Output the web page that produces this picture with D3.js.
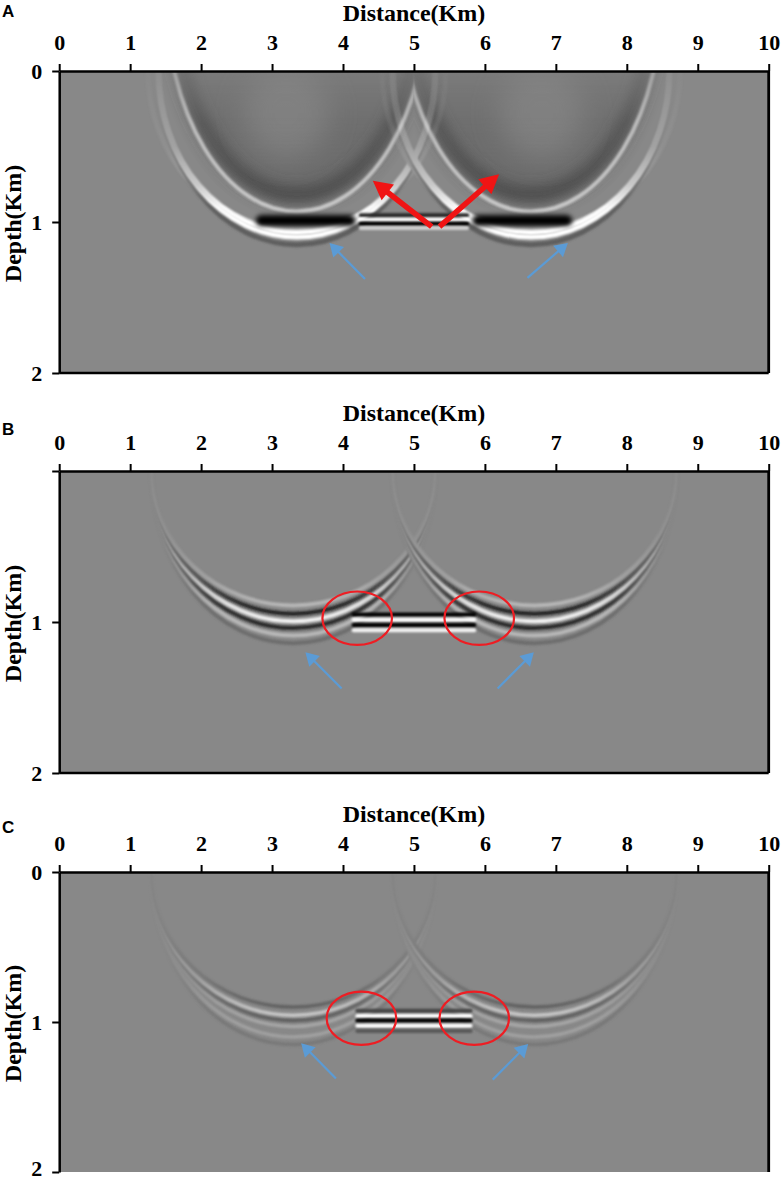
<!DOCTYPE html>
<html lang="en">
<head>
  <meta charset="UTF-8">
  <title>Migrated sections A, B, C</title>
  <script src="https://d3js.org/d3.v7.min.js"></script>
  <style>
    body { margin: 0; background: #fff; }
  </style>
</head>
<body>
<div id="chart"></div>

<script>
/* ========== DATA (all in km) ========== */
var distanceTicks = [0, 1, 2, 3, 4, 5, 6, 7, 8, 9, 10];
var depthTicks = [0, 1, 2];
var depthLabelsA = ["0", "1", "2"];
var depthLabelsB = ["", "1", "2"];
var depthLabelsC = ["0", "1", "2"];

// x position of the two migration smiles (left one, mirrored one)
var smileCentresA = [3.35, 6.65];
var smileCentresB = [3.3, 6.7];
var smileCentresC = [3.3, 6.7];

// rims of each smile: half width, bottom depth, centre depth, amplitude
var smileA = [
  {rx: 2.10, ry: 1.05, cy: 0, amp: 0.3},
  {rx: 1.95, ry: 1.15, cy: 0, amp: -0.3},
  {rx: 1.95, ry: 1.07, cy: 0, amp: 1.0},
  {rx: 1.95, ry: 1.10, cy: 0, amp: 1.0}
];
var smileB = [
  {rx: 2.0, ry: 1.14, cy: 0, amp: -0.2},
  {rx: 2.0, ry: 1.09, cy: 0, amp: 0.4},
  {rx: 2.0, ry: 1.04, cy: 0, amp: -0.7},
  {rx: 2.0, ry: 0.995, cy: 0, amp: 0.9},
  {rx: 2.0, ry: 0.945, cy: 0, amp: -0.8},
  {rx: 2.0, ry: 0.89, cy: 0, amp: 0.45}
];
var smileC = [
  {rx: 2.0, ry: 1.15, cy: 0, amp: -0.12},
  {rx: 2.0, ry: 1.10, cy: 0, amp: 0.2},
  {rx: 2.0, ry: 1.03, cy: 0, amp: 0.25},
  {rx: 2.0, ry: 0.99, cy: 0, amp: -0.3},
  {rx: 2.0, ry: 0.955, cy: 0, amp: 0.6},
  {rx: 2.0, ry: 0.90, cy: 0, amp: -0.35}
];

// bowls of A: low frequency shadow and the bright edge meeting at the apex
var bowlFillA = {rx: 1.80, ry: 1.38, cy: -0.5, amp: -0.24};
var bowlRimA = {rx: 1.74, ry: 1.32, cy: -0.5, amp: -0.5};
var bowlCoreA = {dx: -0.15, depth: 0.28, rx: 0.6, ry: 0.3, amp: -0.08};
var bowlEdgeA = {rx: 1.845, ry: 1.43, cy: -0.5, amp: 0.55};

// strong black band under the left bowl of A (mirrored for the right one)
var bandsA = [{x0: 2.85, x1: 4.1, depth: 0.99, amp: -1}];

// flat reflector between the smiles: extent and stripes
var centreSpanA = [4.25, 5.75];
var centreA = [{depth: 0.955, amp: -0.7}, {depth: 0.985, amp: 1}, {depth: 1.012, amp: -1}, {depth: 1.04, amp: 0.6}];
var centreSpanB = [4.15, 5.85];
var centreB = [{depth: 0.95, amp: -1}, {depth: 0.985, amp: 1}, {depth: 1.02, amp: -1}, {depth: 1.055, amp: 0.9}];
var centreSpanC = [4.2, 5.8];
var centreC = [{depth: 0.925, amp: -0.5}, {depth: 0.96, amp: 1}, {depth: 0.99, amp: -1}, {depth: 1.025, amp: 1}, {depth: 1.06, amp: -0.35}];

// annotations
var redArrowsA = [{from: [5.25, 1.031], to: [4.42, 0.727]}, {from: [5.36, 1.031], to: [6.20, 0.684]}];
var blueArrowsA = [{from: [4.31, 1.377], to: [3.81, 1.139]}, {from: [6.60, 1.37], to: [7.17, 1.139]}];
var blueArrowsB = [{from: [3.98, 1.44], to: [3.47, 1.20]}, {from: [6.18, 1.44], to: [6.69, 1.20]}];
var blueArrowsC = [{from: [3.90, 1.377], to: [3.41, 1.141]}, {from: [6.11, 1.384], to: [6.61, 1.146]}];
var circlesB = [{x: 4.20, depth: 0.975, rx: 0.49, ry: 0.177}, {x: 5.92, depth: 0.975, rx: 0.49, ry: 0.177}];
var circlesC = [{x: 4.26, depth: 0.975, rx: 0.49, ry: 0.177}, {x: 5.85, depth: 0.975, rx: 0.49, ry: 0.177}];

/* ========== SETUP ========== */
var W = 782, H = 1182;
var serif = "'Liberation Serif', 'Times New Roman', serif";

var x = d3.scaleLinear().domain([0, 10]).range([59.2, 768.7]);
var tone = d3.scaleLinear().domain([-1, 0, 1]).range(["#000000", "#888888", "#ffffff"]).clamp(true);

var svg = d3.select("#chart").append("svg").attr("width", W).attr("height", H);
var defs = svg.append("defs");

function blur(id, sd) {
  defs.append("filter").attr("id", id)
    .attr("filterUnits", "userSpaceOnUse")
    .attr("x", 0).attr("y", 0).attr("width", W).attr("height", H)
    .append("feGaussianBlur").attr("stdDeviation", sd);
}
blur("blurThin", 1.3);
blur("blurBand", 2.4);
blur("blurSoft", 7);
blur("blurWide", 14);

// vertical fade mask: stops are [fraction of depth 0..1 km, opacity]
function makeMask(id, y, stops) {
  var grad = defs.append("linearGradient").attr("id", id + "Grad")
    .attr("gradientUnits", "userSpaceOnUse")
    .attr("x1", 0).attr("x2", 0).attr("y1", y(0)).attr("y2", y(1));
  grad.selectAll("stop").data(stops).join("stop")
    .attr("offset", function(d) { return d[0]; })
    .attr("stop-color", "#fff")
    .attr("stop-opacity", function(d) { return d[1]; });
  defs.append("mask").attr("id", id)
    .attr("maskUnits", "userSpaceOnUse")
    .attr("x", 0).attr("y", y(0) - 20).attr("width", W).attr("height", 340)
    .append("rect")
      .attr("x", 0).attr("y", y(0) - 20).attr("width", W).attr("height", 340)
      .attr("fill", "url(#" + id + "Grad)");
  return "url(#" + id + ")";
}

var panels = [
  {key: "A", top: 71, depthPx: 302, letterY: 17, centres: smileCentresA, smile: smileA, span: centreSpanA, centre: centreA,
   labels: depthLabelsA, blue: blueArrowsA, red: redArrowsA, circles: [], stripe: 5, flat: 4,
   fade: [[0, 0.06], [0.5, 0.22], [0.75, 0.55], [0.9, 0.95], [1, 1]], bottom: true},
  {key: "B", top: 471, depthPx: 302, letterY: 435, centres: smileCentresB, smile: smileB, span: centreSpanB, centre: centreB,
   labels: depthLabelsB, blue: blueArrowsB, red: [], circles: circlesB, stripe: 4, flat: 4,
   fade: [[0, 0.08], [0.4, 0.18], [0.7, 0.45], [0.88, 0.85], [1, 1]], bottom: true},
  {key: "C", top: 872, depthPx: 300, letterY: 833, centres: smileCentresC, smile: smileC, span: centreSpanC, centre: centreC,
   labels: depthLabelsC, blue: blueArrowsC, red: [], circles: circlesC, stripe: 3.5, flat: 3.8,
   fade: [[0, 0.06], [0.4, 0.14], [0.7, 0.32], [0.88, 0.75], [1, 1]], bottom: false}
];

function drawArrow(g, a, y, colour, width, headLen, headHalf) {
  var x1 = x(a.from[0]), y1 = y(a.from[1]), x2 = x(a.to[0]), y2 = y(a.to[1]);
  var ang = Math.atan2(y2 - y1, x2 - x1), ux = Math.cos(ang), uy = Math.sin(ang);
  var bx = x2 - ux * headLen, by = y2 - uy * headLen;
  g.append("line")
    .attr("x1", x1).attr("y1", y1).attr("x2", bx + ux * 2).attr("y2", by + uy * 2)
    .attr("stroke", colour).attr("stroke-width", width);
  g.append("path")
    .attr("d", "M" + x2 + "," + y2 +
      "L" + (bx - uy * headHalf) + "," + (by + ux * headHalf) +
      "L" + (bx + uy * headHalf) + "," + (by - ux * headHalf) + "Z")
    .attr("fill", colour);
}

/* ========== DRAW EACH PANEL ========== */
panels.forEach(function(p) {
  var y = d3.scaleLinear().domain([0, 2]).range([p.top, p.top + p.depthPx]);
  var g = svg.append("g").attr("class", "panel-" + p.key);

  defs.append("clipPath").attr("id", "clip" + p.key)
    .append("rect")
      .attr("x", x(0)).attr("y", y(0))
      .attr("width", x(10) - x(0)).attr("height", y(2) - y(0));

  var plot = g.append("g").attr("clip-path", "url(#clip" + p.key + ")");

  plot.append("rect")
    .attr("x", x(0)).attr("y", y(0))
    .attr("width", x(10) - x(0)).attr("height", y(2) - y(0))
    .attr("fill", tone(0));

  /* ---- bowls (A): each one kept on its own side of the apex ---- */
  if (p.key === "A") {
    var bowls = plot.append("g")
      .attr("mask", makeMask("bowlMaskA", y, [[0, 0.4], [0.35, 0.8], [1, 1]]));
    p.centres.forEach(function(c, i) {
      var side = "half" + i;
      defs.append("clipPath").attr("id", side)
        .append("rect")
          .attr("x", i === 0 ? x(0) : x(5)).attr("y", y(0))
          .attr("width", x(5) - x(0)).attr("height", y(2) - y(0));
      var b = bowls.append("g").attr("clip-path", "url(#" + side + ")");
      b.append("ellipse")
        .attr("cx", x(c)).attr("cy", y(bowlFillA.cy))
        .attr("rx", x(bowlFillA.rx) - x(0)).attr("ry", y(bowlFillA.ry) - y(0))
        .attr("fill", tone(bowlFillA.amp))
        .attr("filter", "url(#blurSoft)");
      b.append("ellipse")
        .attr("cx", x(c)).attr("cy", y(bowlRimA.cy))
        .attr("rx", x(bowlRimA.rx) - x(0)).attr("ry", y(bowlRimA.ry) - y(0))
        .attr("fill", "none").attr("stroke", tone(bowlRimA.amp)).attr("stroke-width", 14)
        .attr("filter", "url(#blurSoft)");
      b.append("ellipse")
        .attr("cx", x(c + (c < 5 ? bowlCoreA.dx : -bowlCoreA.dx))).attr("cy", y(bowlCoreA.depth))
        .attr("rx", x(bowlCoreA.rx) - x(0)).attr("ry", y(bowlCoreA.ry) - y(0))
        .attr("fill", tone(bowlCoreA.amp))
        .attr("filter", "url(#blurWide)");
      b.append("ellipse")
        .attr("cx", x(c)).attr("cy", y(bowlEdgeA.cy))
        .attr("rx", x(bowlEdgeA.rx) - x(0)).attr("ry", y(bowlEdgeA.ry) - y(0))
        .attr("fill", "none").attr("stroke", tone(bowlEdgeA.amp)).attr("stroke-width", 4)
        .attr("filter", "url(#blurThin)");
    });
  }

  /* ---- smile rims ---- */
  var rims = plot.append("g").attr("mask", makeMask("rimMask" + p.key, y, p.fade));
  p.centres.forEach(function(c) {
    rims.selectAll(null).data(p.smile).join("ellipse")
      .attr("cx", x(c))
      .attr("cy", function(d) { return y(d.cy); })
      .attr("rx", function(d) { return x(d.rx) - x(0); })
      .attr("ry", function(d) { return y(d.ry) - y(0); })
      .attr("fill", "none")
      .attr("stroke", function(d) { return tone(d.amp); })
      .attr("stroke-width", p.stripe)
      .attr("filter", "url(#blurThin)");
  });

  /* ---- black band under the bowls (A) ---- */
  if (p.key === "A") {
    bandsA.forEach(function(b) {
      [[b.x0, b.x1], [10 - b.x1, 10 - b.x0]].forEach(function(ext) {
        plot.append("line")
          .attr("x1", x(ext[0])).attr("x2", x(ext[1]))
          .attr("y1", y(b.depth)).attr("y2", y(b.depth))
          .attr("stroke", tone(b.amp)).attr("stroke-width", 11)
          .attr("stroke-linecap", "round")
          .attr("filter", "url(#blurBand)");
      });
    });
  }

  /* ---- flat reflector between the smiles ---- */
  plot.append("g").selectAll("line").data(p.centre).join("line")
    .attr("x1", x(p.span[0])).attr("x2", x(p.span[1]))
    .attr("y1", function(d) { return y(d.depth); })
    .attr("y2", function(d) { return y(d.depth); })
    .attr("stroke", function(d) { return tone(d.amp); })
    .attr("stroke-width", p.flat)
    .attr("stroke-linecap", "round")
    .attr("filter", "url(#blurThin)");

  /* ---- annotations ---- */
  var notes = g.append("g");
  notes.selectAll("ellipse").data(p.circles).join("ellipse")
    .attr("cx", function(d) { return x(d.x); })
    .attr("cy", function(d) { return y(d.depth); })
    .attr("rx", function(d) { return x(d.rx) - x(0); })
    .attr("ry", function(d) { return y(d.ry) - y(0); })
    .attr("fill", "none").attr("stroke", "#ee1d23").attr("stroke-width", 2.2);
  p.red.forEach(function(a) { drawArrow(notes, a, y, "#f01414", 5.5, 19, 10); });
  p.blue.forEach(function(a) { drawArrow(notes, a, y, "#5b9bd5", 2.2, 13, 7.5); });

  /* ---- frame ---- */
  g.append("line")
    .attr("x1", x(10)).attr("x2", x(10)).attr("y1", y(0)).attr("y2", y(2))
    .attr("stroke", "#000").attr("stroke-width", 2.8);
  if (p.bottom) {
    g.append("line")
      .attr("x1", x(0)).attr("x2", x(10)).attr("y1", y(2)).attr("y2", y(2))
      .attr("stroke", "#000").attr("stroke-width", 2.5);
  }

  /* ---- axes ---- */
  var gx = g.append("g")
    .attr("transform", "translate(0," + y(0) + ")")
    .call(d3.axisTop(x).tickValues(distanceTicks).tickSize(7).tickSizeOuter(0).tickPadding(14));
  var gy = g.append("g")
    .attr("transform", "translate(" + x(0) + ",0)")
    .call(d3.axisLeft(y).tickValues(depthTicks).tickSize(7).tickSizeOuter(0).tickPadding(10)
      .tickFormat(function(d, i) { return p.labels[i]; }));
  [gx, gy].forEach(function(ax) {
    ax.attr("font-family", serif).attr("font-size", 22).attr("font-weight", "bold");
    ax.select(".domain").attr("stroke", "#000").attr("stroke-width", 2.5);
    ax.selectAll(".tick line").attr("stroke", "#000").attr("stroke-width", 2);
    ax.selectAll(".tick text").attr("fill", "#000");
  });
  // the lowest label of the last panel sits on the page edge: lift it a little
  if (!p.bottom) {
    gy.selectAll(".tick text").filter(function(d) { return d === 2; }).attr("dy", "0.16em");
  }

  g.append("text")
    .attr("x", x(5)).attr("y", y(0) - 50)
    .attr("text-anchor", "middle")
    .attr("font-family", serif).attr("font-weight", "bold").attr("font-size", 24)
    .text("Distance(Km)");

  g.append("text")
    .attr("transform", "translate(21," + (y(1) + 1.5) + ") rotate(-90)")
    .attr("text-anchor", "middle")
    .attr("font-family", serif).attr("font-weight", "bold").attr("font-size", 24)
    .text("Depth(Km)");

  g.append("text")
    .attr("x", 2).attr("y", p.letterY)
    .attr("font-family", "'Liberation Sans', Arial, sans-serif")
    .attr("font-weight", "bold").attr("font-size", 17)
    .text(p.key);
});
</script>
</body>
</html>
